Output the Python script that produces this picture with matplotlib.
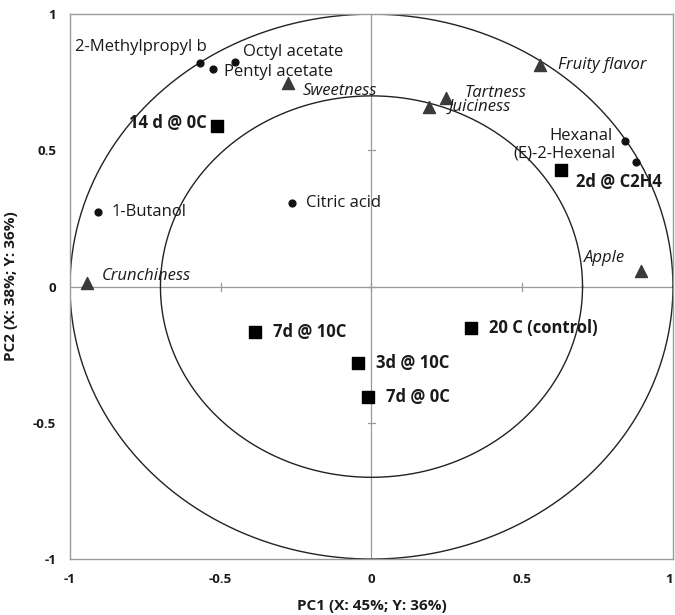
import numpy as np
import matplotlib
matplotlib.use("Agg")
import matplotlib.pyplot as plt

# Volatile compounds (loadings)
volatile_names = ["2-Methylpropyl b", "Octyl acetate", "Pentyl acetate", "1-Butanol",
                  "Citric acid", "Hexanal", "(E)-2-Hexenal"]
volatile_pc1 = [-0.569, -0.453, -0.527, -0.906, -0.263, 0.841, 0.877]
volatile_pc2 = [0.820, 0.825, 0.798, 0.274, 0.305, 0.535, 0.456]

# Sensory attributes (loadings)
sensory_names = ["Sweetness", "Crunchiness", "Fruity flavor", "Tartness", "Juiciness", "Apple"]
sensory_pc1 = [-0.276, -0.945, 0.559, 0.247, 0.192, 0.894]
sensory_pc2 = [0.746, 0.012, 0.813, 0.694, 0.658, 0.058]

# Storage treatments (scores)
treatment_names = ["14 d @ 0C", "2d @ C2H4", "7d @ 10C", "20 C (control)", "3d @ 10C", "7d @ 0C"]
treatment_pc1 = [-0.511, 0.627, -0.386, 0.329, -0.044, -0.011]
treatment_pc2 = [0.589, 0.428, -0.166, -0.153, -0.280, -0.407]

tick_values = [-1, -0.5, 0, 0.5, 1]
tick_labels = ["-1", "-0.5", "0", "0.5", "1"]
circle_radii = [1.0, 0.7]

# label offsets in pixels (dx, dy, horizontal alignment)
volatile_offsets = [(7, 16, "right"), (8, 10, "left"), (11, -3, "left"), (13, 0, "left"),
                    (14, 0, "left"), (-12, 5, "right"), (-20, 9, "right")]
sensory_offsets = [(14, -8, "left"), (15, 7, "left"), (18, 0, "left"), (19, 5, "left"),
                   (19, 0, "left"), (-16, 13, "right")]
treatment_offsets = [(-11, 3, "right"), (15, -12, "left"), (18, 0, "left"), (18, 0, "left"),
                     (18, 0, "left"), (18, 0, "left")]

plt.rcParams["font.family"] = ["Open Sans", "DejaVu Sans"]
text_color = "#1a1a1a"
label_size = 12

fig = plt.figure(figsize=(6.75, 6.15), dpi=100)
ax = fig.add_axes([0.1037, 0.091, 0.8933, 0.886])
ax.set_xlim(-1, 1)
ax.set_ylim(-1, 1)

# correlation circles
theta = np.linspace(0, 2 * np.pi, 400)
for r in circle_radii:
    ax.plot(r * np.cos(theta), r * np.sin(theta), color="#222222", lw=1.0, zorder=2)

# cross lines through the origin with small ticks
grey = "#9a9a9a"
ax.axhline(0, color=grey, lw=0.9, zorder=1)
ax.axvline(0, color=grey, lw=0.9, zorder=1)
for t in [-0.5, 0, 0.5]:
    ax.plot([t, t], [-0.015, 0.015], color=grey, lw=0.9, zorder=1)
    ax.plot([-0.013, 0.013], [t, t], color=grey, lw=0.9, zorder=1)

ax.scatter(volatile_pc1, volatile_pc2, marker="o", s=24, color="#111111", zorder=4)
ax.scatter(sensory_pc1, sensory_pc2, marker="^", s=75, color="#3a3a3a", zorder=4)
ax.scatter(treatment_pc1, treatment_pc2, marker="s", s=85, color="#000000", zorder=4)

for name, x, y, (dx, dy, ha) in zip(volatile_names, volatile_pc1, volatile_pc2, volatile_offsets):
    ax.annotate(name, (x, y), xytext=(dx, dy), textcoords="offset pixels", ha=ha, va="center",
                fontsize=label_size, color=text_color, zorder=5)
for name, x, y, (dx, dy, ha) in zip(sensory_names, sensory_pc1, sensory_pc2, sensory_offsets):
    ax.annotate(name, (x, y), xytext=(dx, dy), textcoords="offset pixels", ha=ha, va="center",
                fontsize=label_size, style="italic", color=text_color, zorder=5)
for name, x, y, (dx, dy, ha) in zip(treatment_names, treatment_pc1, treatment_pc2, treatment_offsets):
    ax.annotate(name, (x, y), xytext=(dx, dy), textcoords="offset pixels", ha=ha, va="center",
                fontsize=label_size, fontweight="bold", color=text_color, zorder=5)

ax.set_xticks(tick_values)
ax.set_xticklabels(tick_labels, fontweight="bold", fontsize=9.5)
ax.set_yticks(tick_values)
ax.set_yticklabels(tick_labels, fontweight="bold", fontsize=9.5)
ax.tick_params(length=0, pad=10, colors=text_color)
# keep the rightmost x tick label inside the figure edge
ax.get_xticklabels()[-1].set_horizontalalignment("right")
for s in ax.spines.values():
    s.set_color(grey)
    s.set_linewidth(1.0)

ax.set_xlabel("PC1 (X: 45%; Y: 36%)", fontweight="bold", fontsize=11, color=text_color)
ax.xaxis.set_label_coords(0.5, -0.074)
ax.set_ylabel("PC2 (X: 38%; Y: 36%)", fontweight="bold", fontsize=11, color=text_color)
ax.yaxis.set_label_coords(-0.086, 0.5)

fig.savefig("out.png", dpi=100, facecolor="white")
